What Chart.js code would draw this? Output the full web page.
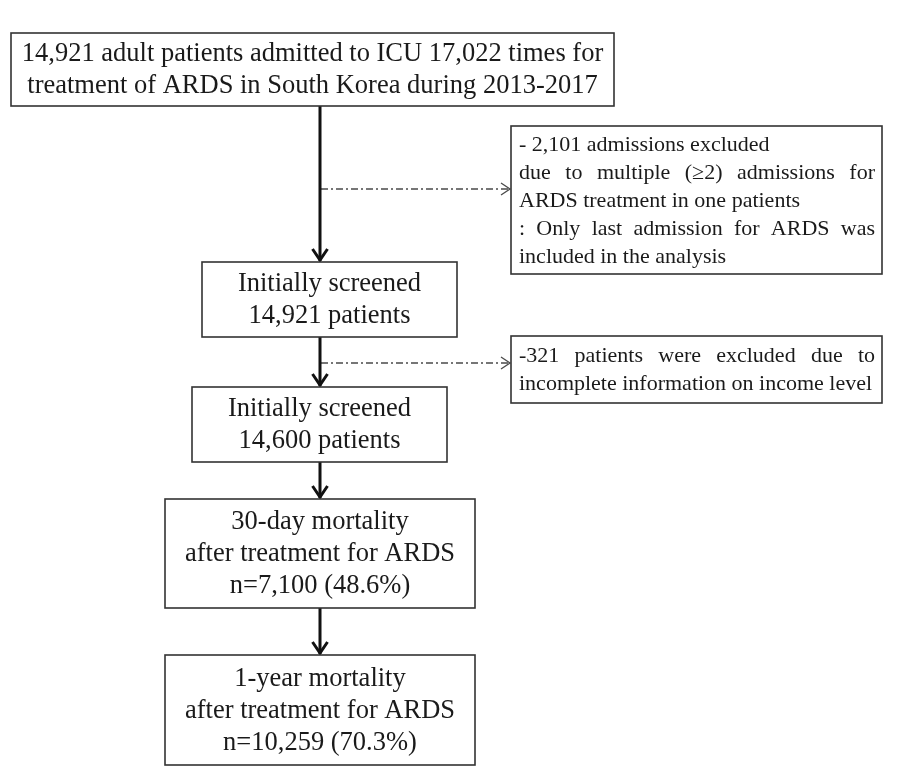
<!DOCTYPE html>
<html>
<head>
<meta charset="utf-8">
<script src="https://cdn.jsdelivr.net/npm/chart.js@4.4.1/dist/chart.umd.min.js"></script>
<style>
  html, body { margin: 0; padding: 0; background: #fff; }
  #wrap { width: 897px; height: 776px; }
</style>
</head>
<body>
<div id="wrap"><canvas id="flow" width="897" height="776"></canvas></div>
<script>
// flow steps (main column) and exclusion notes
const stepText = [
  ['14,921 adult patients admitted to ICU 17,022 times for', 'treatment of ARDS in South Korea during 2013-2017'],
  ['Initially screened', '14,921 patients'],
  ['Initially screened', '14,600 patients'],
  ['30-day mortality', 'after treatment for ARDS', 'n=7,100 (48.6%)'],
  ['1-year mortality', 'after treatment for ARDS', 'n=10,259 (70.3%)']
];
const noteText = [
  ['- 2,101 admissions excluded', 'due to multiple (\u22652) admissions for', 'ARDS treatment in one patients', ': Only last admission for ARDS was', 'included in the analysis'],
  ['-321 patients were excluded due to', 'incomplete information on income level']
];
// which note lines are justified to the box width
const noteJustify = [
  [false, true, false, true, false],
  [true, false]
];
// note i hangs off the arrow between step i and step i+1
const noteFrom = [0, 1];

// layout (canvas units)
const stepBox = [
  { x0: 11, x1: 614, y0: 33, y1: 106 },
  { x0: 202, x1: 457, y0: 262, y1: 337 },
  { x0: 192, x1: 447, y0: 387, y1: 462 },
  { x0: 165, x1: 475, y0: 499, y1: 608 },
  { x0: 165, x1: 475, y0: 655, y1: 765 }
];
const noteBox = [
  { x0: 511, x1: 882, y0: 126, y1: 274 },
  { x0: 511, x1: 882, y0: 336, y1: 403 }
];
const noteLineY = [189, 363];
const spineX = 320;

const serif = '"Liberation Serif", "Times New Roman", serif';

// connectors as line datasets
const datasets = [];
for (let i = 0; i < stepBox.length - 1; i++) {
  datasets.push({
    kind: 'solid',
    data: [{ x: spineX, y: stepBox[i].y1 }, { x: spineX, y: stepBox[i + 1].y0 - 1 }],
    showLine: true, borderColor: '#111', borderWidth: 3, pointRadius: 0
  });
}
noteFrom.forEach((from, k) => {
  datasets.push({
    kind: 'dash',
    data: [{ x: spineX + 1, y: noteLineY[k] }, { x: noteBox[k].x0 - 1, y: noteLineY[k] }],
    showLine: true, borderColor: '#4a4a4a', borderWidth: 1.3, borderDash: [7, 3, 2, 3], pointRadius: 0
  });
});

function rectPx(chart, b) {
  const xs = chart.scales.x, ys = chart.scales.y;
  const l = xs.getPixelForValue(b.x0), r = xs.getPixelForValue(b.x1);
  const t = ys.getPixelForValue(b.y0), bt = ys.getPixelForValue(b.y1);
  return { l, r, t, b: bt };
}

function drawBox(ctx, p) {
  ctx.save();
  ctx.fillStyle = '#fff';
  ctx.fillRect(p.l, p.t, p.r - p.l, p.b - p.t);
  ctx.strokeStyle = '#333';
  ctx.lineWidth = 1.6;
  ctx.strokeRect(p.l, p.t, p.r - p.l, p.b - p.t);
  ctx.restore();
}

function drawJustified(ctx, line, x, y, width) {
  const words = line.split(' ');
  const total = words.reduce((s, w) => s + ctx.measureText(w).width, 0);
  const gap = (width - total) / (words.length - 1);
  let cx = x;
  words.forEach(w => {
    ctx.fillText(w, cx, y);
    cx += ctx.measureText(w).width + gap;
  });
}

const flowPlugin = {
  id: 'flow',
  afterDatasetsDraw(chart) {
    const ctx = chart.ctx;
    // arrow heads
    chart.data.datasets.forEach((ds, i) => {
      const pts = chart.getDatasetMeta(i).data;
      const tip = pts[pts.length - 1];
      ctx.save();
      if (ds.kind === 'solid') {
        ctx.strokeStyle = '#111';
        ctx.lineWidth = 3;
        ctx.beginPath();
        ctx.moveTo(tip.x - 7.5, tip.y - 12);
        ctx.lineTo(tip.x, tip.y - 1);
        ctx.lineTo(tip.x + 7.5, tip.y - 12);
        ctx.stroke();
      } else {
        ctx.strokeStyle = '#4a4a4a';
        ctx.lineWidth = 1.3;
        ctx.beginPath();
        ctx.moveTo(tip.x - 9, tip.y - 6);
        ctx.lineTo(tip.x, tip.y);
        ctx.lineTo(tip.x - 9, tip.y + 6);
        ctx.stroke();
      }
      ctx.restore();
    });

    // main steps
    stepBox.forEach((b, i) => {
      const p = rectPx(chart, b);
      drawBox(ctx, p);
      const lines = stepText[i];
      const lh = 32;
      const cx = (p.l + p.r) / 2;
      const startY = (p.t + p.b) / 2 - (lines.length - 1) * lh / 2;
      ctx.save();
      ctx.fillStyle = '#1a1a1a';
      ctx.font = '26.5px ' + serif;
      ctx.textAlign = 'center';
      ctx.textBaseline = 'middle';
      lines.forEach((ln, j) => ctx.fillText(ln, cx, startY + j * lh + 1));
      ctx.restore();
    });

    // exclusion notes
    noteBox.forEach((b, i) => {
      const p = rectPx(chart, b);
      drawBox(ctx, p);
      const lines = noteText[i];
      const lh = 28;
      const startY = (p.t + p.b) / 2 - (lines.length - 1) * lh / 2;
      const x = p.l + 8, w = p.r - p.l - 15;
      ctx.save();
      ctx.fillStyle = '#1a1a1a';
      ctx.font = '22px ' + serif;
      ctx.textAlign = 'left';
      ctx.textBaseline = 'middle';
      lines.forEach((ln, j) => {
        const y = startY + j * lh + 1;
        if (noteJustify[i][j]) drawJustified(ctx, ln, x, y, w);
        else ctx.fillText(ln, x, y);
      });
      ctx.restore();
    });
  }
};

new Chart(document.getElementById('flow'), {
  type: 'scatter',
  data: { datasets },
  options: {
    responsive: false,
    animation: false,
    layout: { padding: 0 },
    scales: {
      x: { type: 'linear', min: 0, max: 897, display: false },
      y: { type: 'linear', min: 0, max: 776, reverse: true, display: false }
    },
    plugins: { legend: { display: false }, tooltip: { enabled: false } },
    events: []
  },
  plugins: [flowPlugin]
});
</script>
</body>
</html>
